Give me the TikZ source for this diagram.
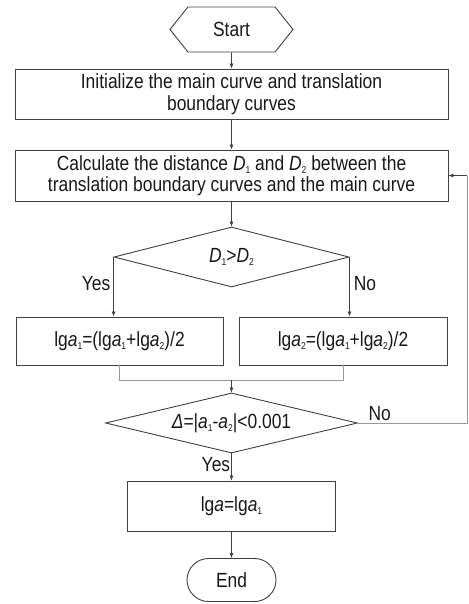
\documentclass[tikz,border=0pt]{standalone}
\usepackage{fontspec}
\setmainfont{Liberation Sans}[FakeStretch=0.85]
\usetikzlibrary{shapes.geometric,shapes.symbols,shapes.misc,arrows.meta}
\newcommand\sbs[1]{\raisebox{-3.2pt}{\fontsize{10}{10}\selectfont #1}}
\begin{document}
\begin{tikzpicture}[x=1pt,y=-1pt,
  every node/.style={font=\fontsize{20.5}{21.5}\selectfont, text=black!90, align=center, inner sep=0pt},
  box/.style={draw=black!75, line width=0.9pt, rectangle},
  dia/.style={draw=black!75, line width=0.9pt, diamond},
  line/.style={draw=black!75, line width=0.7pt},
  gline/.style={draw=black!40, line width=0.8pt},
  arr/.style={-{Latex[length=5pt,width=4pt]}}]
\useasboundingbox (0,0) rectangle (468,604);
\node[draw=black!75, line width=0.9pt, signal, signal to=west and east, signal pointer angle=103,
      minimum width=123pt, minimum height=45pt] (start) at (231.5,29.5) {Start};
\node[box, minimum width=433pt, minimum height=50pt] (init) at (231.5,94) {Initialize the main curve and translation\\boundary curves};
\node[box, minimum width=433pt, minimum height=51pt] (calc) at (231.5,175.5) {Calculate the distance \textit{D}\sbs{1} and \textit{D}\sbs{2} between the\\translation boundary curves and the main curve};
\node[dia, minimum width=235pt, minimum height=60pt, aspect=3.9] (d1) at (231.5,257) {\textit{D}\sbs{1}>\textit{D}\sbs{2}};
\node[box, minimum width=207pt, minimum height=48pt] (b1) at (119.5,341) {lg\textit{a}\sbs{1}=(lg\textit{a}\sbs{1}+lg\textit{a}\sbs{2})/2};
\node[box, minimum width=208pt, minimum height=48pt] (b2) at (343,341) {lg\textit{a}\sbs{2}=(lg\textit{a}\sbs{1}+lg\textit{a}\sbs{2})/2};
\coordinate (m1) at (119,380);
\coordinate (m2) at (343,380);
\coordinate (mc) at (231.5,380);
\node[dia, minimum width=252pt, minimum height=60pt, aspect=4.2] (d2) at (231.5,423) {\textit{Δ}=|\textit{a}\sbs{1}-\textit{a}\sbs{2}|<0.001};
\node[box, minimum width=208pt, minimum height=50pt] (fin) at (231.5,506) {lg\textit{a}=lg\textit{a}\sbs{1}};
\node[draw=black!75, line width=0.9pt, rounded rectangle, minimum width=89pt, minimum height=43pt] (end) at (231.5,580) {End};
\coordinate (fb1) at (467,423);
\coordinate (fb2) at (467,175.5);
% connectors
\draw[line,arr] (start) -- (init);
\draw[line,arr] (init) -- (calc);
\draw[line,arr] (calc) -- (d1);
\draw[line,arr] (d1.west) -- (d1.west |- b1.north) node[pos=0.45, left=3pt] {Yes};
\draw[line,arr] (d1.east) -- (d1.east |- b2.north) node[pos=0.45, right=4pt] {No};
\draw[gline] (b1.south -| m1) -- (m1) -- (m2) -- (b2.south -| m2);
\draw[line,arr] (mc) -- (d2.north);
\draw[gline] (d2.east) -- (fb1) node[pos=0.2, above=2pt] {No} -- (fb2);
\draw[line,arr] (fb2) -- (calc.east);
\draw[line,arr] (d2.south) -- (fin.north) node[pos=0.4, left=1pt] {Yes};
\draw[line,arr] (fin) -- (end);
\end{tikzpicture}
\end{document}
